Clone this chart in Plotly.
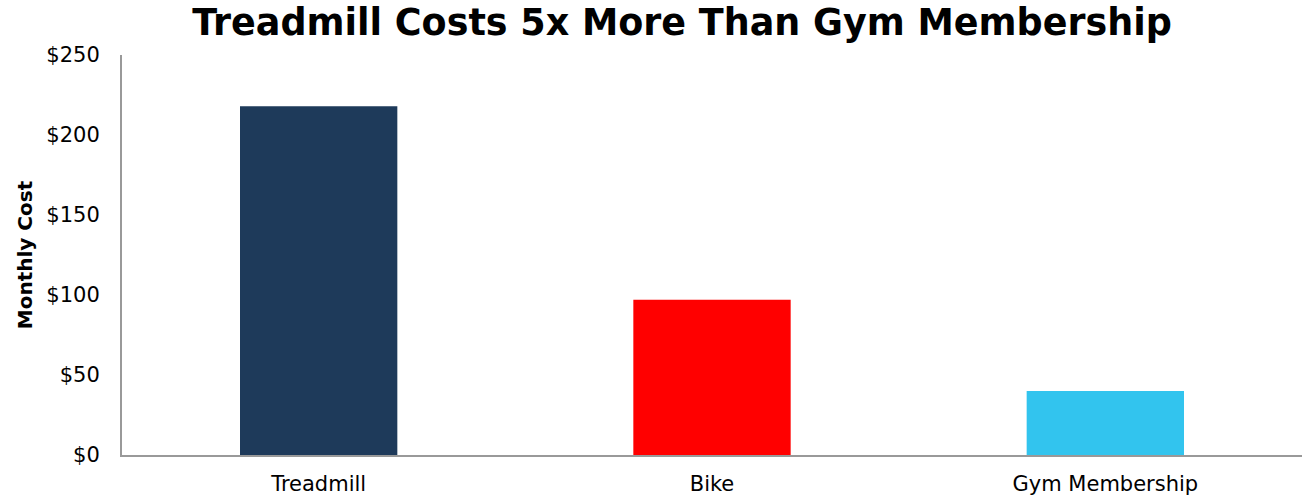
import plotly.graph_objects as go

categories = ["Treadmill", "Bike", "Gym Membership"]
monthly_cost = [218, 97, 40]
bar_colors = ["#1E3A5A", "#FF0000", "#32C4EE"]
y_ticks = [0, 50, 100, 150, 200, 250]
y_tick_labels = ["$" + str(v) for v in y_ticks]

FONT = "DejaVu Sans"

fig = go.Figure(
    go.Bar(
        x=categories,
        y=monthly_cost,
        marker=dict(color=bar_colors, line=dict(width=0)),
        width=0.4,
        hoverinfo="x+y",
    )
)

fig.update_layout(
    width=1302,
    height=498,
    margin=dict(l=122, r=0, t=55, b=43),
    paper_bgcolor="white",
    plot_bgcolor="white",
    showlegend=False,
    title=dict(
        text="<b>Treadmill Costs 5x More Than Gym Membership</b>",
        font=dict(family=FONT, size=36.5, color="black"),
        x=682 / 1302,
        xanchor="center",
        xref="container",
        y=1 - 22 / 498,
        yanchor="middle",
        yref="container",
    ),
    font=dict(family=FONT, color="black"),
)

fig.update_xaxes(
    showline=True,
    linecolor="#999999",
    linewidth=2,
    showgrid=False,
    ticks="",
    tickfont=dict(family=FONT, size=21, color="black"),
    ticklabelstandoff=9,
)

fig.update_yaxes(
    range=[0, 250],
    tickvals=y_ticks,
    ticktext=y_tick_labels,
    showline=True,
    linecolor="#999999",
    linewidth=2,
    showgrid=False,
    zeroline=False,
    ticks="",
    tickfont=dict(family=FONT, size=21, color="black"),
    ticklabelstandoff=16,
    title=dict(
        text="<b>Monthly Cost</b>",
        font=dict(family=FONT, size=20, color="black"),
        standoff=8,
    ),
)

fig.write_html("out.html")
